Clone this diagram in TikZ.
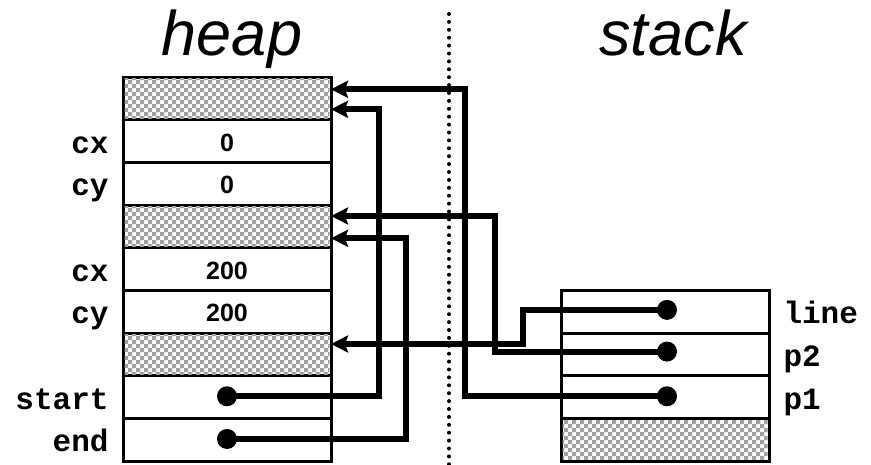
\documentclass[tikz,border=0pt]{standalone}
\usepackage{fontspec}
\setmainfont{Liberation Sans}
\newfontfamily\codefont{Liberation Mono}
\usetikzlibrary{arrows.meta}

\definecolor{ckgray}{HTML}{A0A0A0}

\tikzset{
  cell/.style={draw, line width=3pt, rectangle, minimum width=208pt,
    minimum height=42.7pt, inner sep=0pt, outer sep=0pt, anchor=north west,
    fill=white},
  val/.style={font=\fontsize{25}{25}\selectfont\bfseries, anchor=base},
  var/.style={font=\codefont\fontsize{31}{31}\selectfont\bfseries, anchor=base east},
  svar/.style={font=\codefont\fontsize{31}{31}\selectfont\bfseries, anchor=base west},
  title/.style={font=\fontsize{63}{63}\selectfont\itshape, anchor=base},
  dot/.style={circle, fill=black, minimum size=20pt, inner sep=0pt},
  ptr/.style={line width=6pt, -{Stealth[length=17pt, width=17pt, inset=3pt]}},
  divider/.style={line width=4pt, line cap=round, dash pattern=on 0pt off 7.9pt},
}

% grey/white 4pt checkerboard inside the border of a cell:
% #1 cell, #2..#3 x range, #4..#5 y range (multiples of 8)
\newcommand\checkercell[5]{%
  \begin{scope}
    \clip ([xshift=1.5pt,yshift=-1.5pt]#1.north west) rectangle ([xshift=-1.5pt,yshift=1.5pt]#1.south east);
    \foreach \x in {#2,\the\numexpr#2+8\relax,...,#3} {
      \fill[ckgray] \foreach \y in {#4,\the\numexpr#4+8\relax,...,#5} {
          (\x,\y) rectangle ++(4,4) (\x+4,\y+4) rectangle ++(4,4)
        };
    }
  \end{scope}}

\begin{document}
\begin{tikzpicture}[x=1pt, y=-1pt]
  \path[use as bounding box] (0,0) rectangle (871,464);

  % titles
  \node[title] (theap) at (232,55) {heap};
  \node[title] (tstack) at (673,55) {stack};

  % divider between heap and stack
  \coordinate (dtop) at (449,14);
  \coordinate (dbot) at (449,466);
  \draw[divider] (dtop) -- (dbot);

  % heap cells
  \node[cell] (h1) at (123,77.0) {};
  \node[cell] (h2) at (123,119.7) {};
  \node[cell] (h3) at (123,162.4) {};
  \node[cell] (h4) at (123,205.1) {};
  \node[cell] (h5) at (123,247.8) {};
  \node[cell] (h6) at (123,290.5) {};
  \node[cell] (h7) at (123,333.2) {};
  \node[cell] (h8) at (123,375.9) {};
  \node[cell] (h9) at (123,418.6) {};

  % stack cells
  \node[cell] (s1) at (561,290.5) {};
  \node[cell] (s2) at (561,333.2) {};
  \node[cell] (s3) at (561,375.9) {};
  \node[cell] (s4) at (561,418.6) {};

  % unused cells
  \checkercell{h1}{120}{328}{72}{120}
  \checkercell{h4}{120}{328}{200}{248}
  \checkercell{h7}{120}{328}{328}{376}
  \checkercell{s4}{560}{768}{416}{464}

  % cell values
  \node[val] (v2) at ([yshift=-10pt]h2.center) {0};
  \node[val] (v3) at ([yshift=-10pt]h3.center) {0};
  \node[val] (v5) at ([yshift=-10pt]h5.center) {200};
  \node[val] (v6) at ([yshift=-10pt]h6.center) {200};

  % field names
  \node[var] (l2) at ([xshift=-11pt, yshift=-12pt]h2.west) {cx};
  \node[var] (l3) at ([xshift=-11pt, yshift=-12pt]h3.west) {cy};
  \node[var] (l5) at ([xshift=-11pt, yshift=-12pt]h5.west) {cx};
  \node[var] (l6) at ([xshift=-11pt, yshift=-12pt]h6.west) {cy};
  \node[var] (l8) at ([xshift=-11pt, yshift=-12pt]h8.west) {start};
  \node[var] (l9) at ([xshift=-11pt, yshift=-12pt]h9.west) {end};

  % local variable names
  \node[svar] (ls1) at ([xshift=11pt, yshift=-12pt]s1.east) {line};
  \node[svar] (ls2) at ([xshift=11pt, yshift=-12pt]s2.east) {p2};
  \node[svar] (ls3) at ([xshift=11pt, yshift=-12pt]s3.east) {p1};

  % pointer origins
  \node[dot] (dstart) at ([yshift=1pt]h8.center) {};
  \node[dot] (dend) at ([yshift=1pt]h9.center) {};
  \node[dot] (dline) at ([xshift=2pt, yshift=2pt]s1.center) {};
  \node[dot] (dp2) at ([xshift=2pt, yshift=3pt]s2.center) {};
  \node[dot] (dp1) at ([xshift=2pt, yshift=1pt]s3.center) {};

  % bend points of the pointers
  \coordinate (bp1) at (465,89.3);
  \coordinate (bp2) at (495,216);
  \coordinate (bline) at (523,344);
  \coordinate (bstart) at (379,109.3);
  \coordinate (bend) at (406,238.3);

  % pointers
  \draw[ptr] (dp1.center) -| (bp1) -- (bp1 -| h1.east);
  \draw[ptr] (dp2.center) -| (bp2) -- (bp2 -| h4.east);
  \draw[ptr] (dline.center) -| (bline) -- (bline -| h7.east);
  \draw[ptr] (dstart.center) -| (bstart) -- (bstart -| h1.east);
  \draw[ptr] (dend.center) -| (bend) -- (bend -| h4.east);
\end{tikzpicture}
\end{document}
